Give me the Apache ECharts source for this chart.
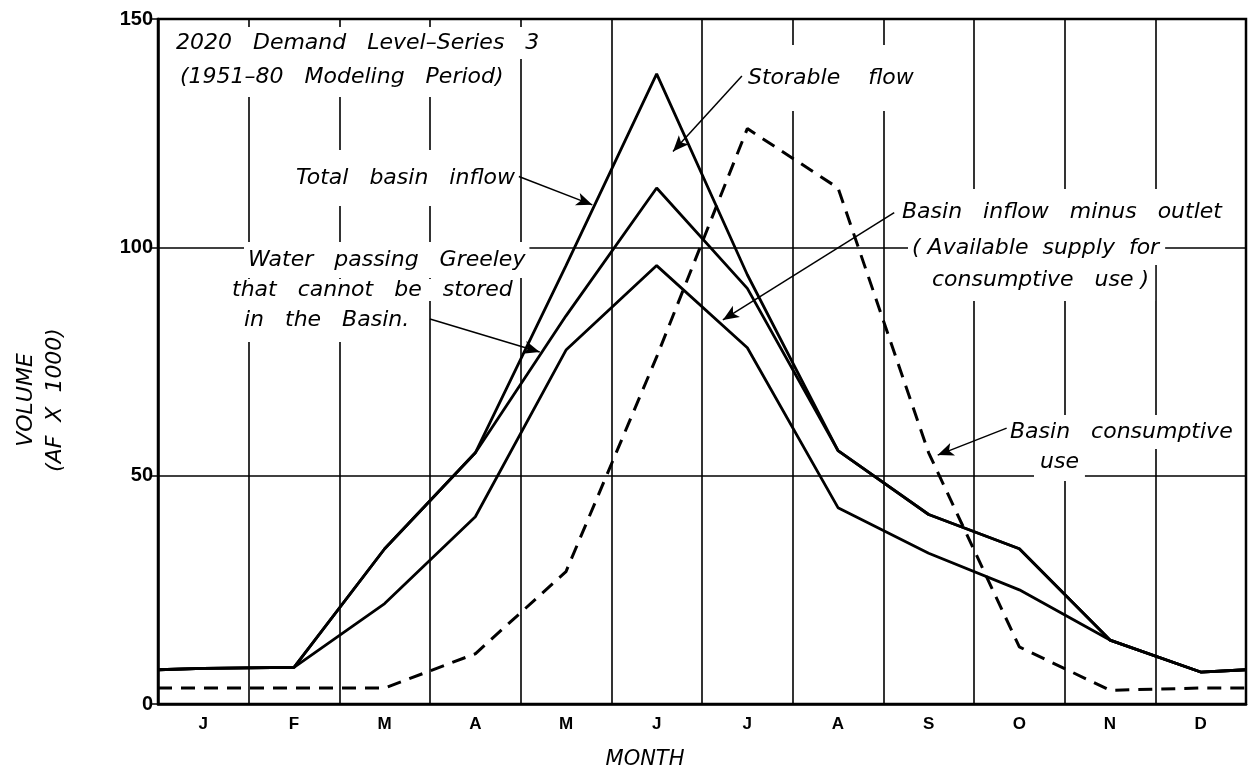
<!DOCTYPE html>
<html>
<head>
<meta charset="utf-8">
<script src="https://cdn.jsdelivr.net/npm/echarts@6/dist/echarts.min.js"></script>
<style>
html,body{margin:0;padding:0;background:#fff;}
#c{width:1250px;height:773px;}
</style>
</head>
<body>
<div id="c"></div>
<script>
// Month categories (tick labels)
const months = ['J','F','M','A','M','J','J','A','S','O','N','D'];
const yTicks = [0, 50, 100, 150];

// Values: [left edge, J, F, M, A, M, J, J, A, S, O, N, D, right edge]  (AF x 1000)
const totalBasinInflow    = [7.5, 7.8, 8, 34, 55, 96, 138, 94, 55.5, 41.5, 34, 14, 7, 7.5];
const waterPassingGreeley = [7.5, 7.8, 8, 34, 55, 85, 113, 91, 55.5, 41.5, 34, 14, 7, 7.5];
const inflowMinusOutlet   = [7.5, 7.8, 8, 22, 41, 77.5, 96, 78, 43, 33, 25, 14, 7, 7.5];
const consumptiveUse      = [3.5, 3.5, 3.5, 3.5, 11, 29, 76, 126, 113, 55, 12.5, 3, 3.5, 3.5];

// x positions on the month scale: edges and month centres
const xPos = [0].concat(months.map((m, i) => i + 0.5)).concat([months.length]);
const pts = arr => arr.map((v, i) => [xPos[i], v]);

const FONT = '"DejaVu Sans", sans-serif';
const annFont = 'italic 22px ' + FONT;

function arrow(a, b) {
  return [{ coord: a }, { coord: b }];
}

const chart = echarts.init(document.getElementById('c'), null, { renderer: 'canvas' });

function txt(text, x, y, opts) {
  opts = opts || {};
  return {
    type: 'text',
    z: 1,
    style: Object.assign({
      text: text, x: x, y: y,
      fill: '#000',
      font: annFont,
      textAlign: 'left', align: 'left',
      textVerticalAlign: 'middle', verticalAlign: 'middle',
      backgroundColor: '#fff',
      padding: [6, 8]
    }, opts)
  };
}

const option = {
  backgroundColor: '#fff',
  animation: false,
  grid: {
    left: 158, right: 4, top: 19, bottom: 69,
    show: true, borderColor: '#000', borderWidth: 2.5, backgroundColor: 'transparent'
  },
  xAxis: [
    {
      type: 'category', data: months, boundaryGap: true, position: 'bottom',
      axisLine: { show: true, lineStyle: { color: '#000', width: 2.5 } },
      axisTick: { show: false },
      axisLabel: { color: '#000', fontFamily: '"Liberation Sans", sans-serif', fontWeight: 'bold', fontSize: 17, margin: 12 },
      splitLine: { show: true, lineStyle: { color: '#000', width: 1.6 } }
    },
    { type: 'value', min: 0, max: months.length, show: false }
  ],
  yAxis: {
    type: 'value', min: yTicks[0], max: yTicks[yTicks.length - 1], interval: 50,
    axisLine: { show: true, lineStyle: { color: '#000', width: 2.5 } },
    axisTick: { show: true, length: 6, lineStyle: { color: '#000', width: 1.5 } },
    axisLabel: { color: '#000', fontFamily: '"Liberation Sans", sans-serif', fontWeight: 'bold', fontSize: 20, margin: 5 },
    splitLine: { show: true, lineStyle: { color: '#000', width: 1.6 } }
  },
  graphic: [
    txt('2020   Demand   Level\u2013Series   3', 168, 43, { padding: [8, 10, 2, 8] }),
    txt('(1951\u201380   Modeling   Period)', 172, 77, { padding: [2, 10, 16, 8] }),
    txt('Storable    flow', 740, 78, { padding: [26, 8, 18, 8] }),
    txt('Total   basin   inflow', 292, 178, { padding: [20, 4, 14, 4] }),
    txt('Water   passing   Greeley', 244, 260, { padding: [14, 4, 0, 4] }),
    txt('that   cannot   be   stored', 228, 290, { padding: [0, 4, 0, 4] }),
    txt('in   the   Basin.', 240, 320, { padding: [0, 4, 22, 4] }),
    txt('Basin   inflow   minus   outlet', 898, 212, { padding: [18, 4, 6, 4] }),
    txt('( Available  supply  for', 908, 248, { padding: [6, 6, 6, 4] }),
    txt('consumptive   use )', 928, 280, { padding: [4, 6, 16, 4] }),
    txt('Basin   consumptive', 1006, 432, { padding: [8, 4, 4, 4] }),
    txt('use', 1034, 462, { padding: [2, 6, 14, 6] }),
    {
      type: 'text', z: 1,
      style: { text: 'MONTH', x: 645, y: 760, fill: '#000', font: 'italic 21px ' + FONT,
               textAlign: 'center', align: 'center', textVerticalAlign: 'middle', verticalAlign: 'middle' }
    },
    {
      type: 'text', z: 1, x: 41, y: 400, rotation: Math.PI / 2,
      style: { text: 'VOLUME\n(AF  X  1000)', x: 0, y: 0, fill: '#000', font: 'italic 22px ' + FONT,
               lineHeight: 29, textAlign: 'center', align: 'center', textVerticalAlign: 'middle', verticalAlign: 'middle' }
    }
  ],
  series: [
    {
      name: 'Total basin inflow', type: 'line', xAxisIndex: 1, z: 3,
      data: pts(totalBasinInflow), symbol: 'none',
      lineStyle: { color: '#000', width: 2.8 },
      markLine: {
        silent: true, symbol: ['none', 'arrow'], symbolSize: [10, 16],
        label: { show: false },
        lineStyle: { color: '#000', width: 1.5, type: 'solid' },
        data: [
          arrow([3.98, 115.5], [4.79, 109.3]),   // Total basin inflow
          arrow([6.44, 137.5], [5.68, 121]),     // Storable flow
          arrow([3.0, 84.3], [4.21, 77.1]),      // Water passing Greeley
          arrow([8.12, 107.6], [6.23, 84.1]),    // Basin inflow minus outlet
          arrow([9.36, 60.4], [8.6, 54.5])       // Basin consumptive use
        ]
      }
    },
    {
      name: 'Water passing Greeley', type: 'line', xAxisIndex: 1, z: 3,
      data: pts(waterPassingGreeley), symbol: 'none',
      lineStyle: { color: '#000', width: 2.8 }
    },
    {
      name: 'Basin inflow minus outlet', type: 'line', xAxisIndex: 1, z: 3,
      data: pts(inflowMinusOutlet), symbol: 'none',
      lineStyle: { color: '#000', width: 2.8 }
    },
    {
      name: 'Basin consumptive use', type: 'line', xAxisIndex: 1, z: 3,
      data: pts(consumptiveUse), symbol: 'none',
      lineStyle: { color: '#000', width: 3, type: [14, 9] }
    }
  ]
};
chart.setOption(option);
</script>
</body>
</html>
